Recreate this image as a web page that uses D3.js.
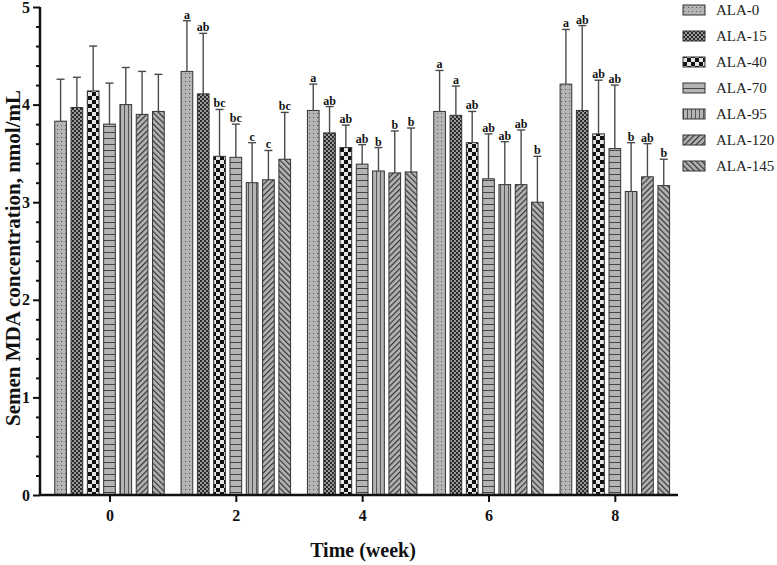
<!DOCTYPE html>
<html><head><meta charset="utf-8">
<script src="https://cdn.jsdelivr.net/npm/d3@7"></script>
<style>body{margin:0;background:#fff}svg{display:block}</style>
</head><body>
<script>
const weeks = [0, 2, 4, 6, 8];
const series = ["ALA-0", "ALA-15", "ALA-40", "ALA-70", "ALA-95", "ALA-120", "ALA-145"];
// mean values per week (series order as above)
const meansW0 = [3.83, 3.97, 4.14, 3.80, 4.00, 3.90, 3.93];
const meansW2 = [4.34, 4.11, 3.47, 3.46, 3.20, 3.23, 3.44];
const meansW4 = [3.94, 3.71, 3.56, 3.39, 3.32, 3.30, 3.31];
const meansW6 = [3.93, 3.89, 3.61, 3.24, 3.18, 3.18, 3.00];
const meansW8 = [4.21, 3.94, 3.70, 3.55, 3.11, 3.26, 3.17];
// upper error (SD)
const errW0 = [0.43, 0.31, 0.46, 0.42, 0.38, 0.44, 0.38];
const errW2 = [0.52, 0.62, 0.48, 0.34, 0.41, 0.30, 0.48];
const errW4 = [0.27, 0.27, 0.23, 0.20, 0.24, 0.43, 0.45];
const errW6 = [0.42, 0.30, 0.32, 0.46, 0.44, 0.56, 0.47];
const errW8 = [0.56, 0.87, 0.55, 0.65, 0.50, 0.34, 0.27];
// significance letters
const lettersW0 = ["", "", "", "", "", "", ""];
const lettersW2 = ["a", "ab", "bc", "bc", "c", "c", "bc"];
const lettersW4 = ["a", "ab", "ab", "ab", "b", "b", "b"];
const lettersW6 = ["a", "a", "ab", "ab", "ab", "ab", "b"];
const lettersW8 = ["a", "ab", "ab", "ab", "b", "ab", "b"];
const yTicks = [0, 1, 2, 3, 4, 5];

const meansAll = [meansW0, meansW2, meansW4, meansW6, meansW8];
const errAll = [errW0, errW2, errW4, errW6, errW8];
const lettersAll = [lettersW0, lettersW2, lettersW4, lettersW6, lettersW8];
const rows = [];
weeks.forEach((w, wi) => series.forEach((s, si) => rows.push({
  week: w, series: s, si, mean: meansAll[wi][si], err: errAll[wi][si], letter: lettersAll[wi][si]
})));

const W = 777, H = 565;
const FONT = "'Liberation Serif','Times New Roman',serif";
const svg = d3.select("body").append("svg").attr("width", W).attr("height", H);

const x = d3.scaleLinear().domain([-1.1, 9]).range([40, 678]);
const xs = d3.scaleBand().domain(series).range([-54.75, 54.75]).paddingInner(0.283).paddingOuter(0);
const y = d3.scaleLinear().domain([0, 5]).range([495, 7]);

// patterns
const defs = svg.append("defs");
const BG = "#b4b4b4";
function pat(id, w, h, build, transform) {
  const p = defs.append("pattern").attr("id", id).attr("patternUnits", "userSpaceOnUse")
    .attr("width", w).attr("height", h);
  if (transform) p.attr("patternTransform", transform);
  build(p);
}
pat("p0", 4, 4, p => {
  p.append("rect").attr("width", 4).attr("height", 4).attr("fill", BG);
  p.append("rect").attr("x", 1).attr("y", 1).attr("width", 1).attr("height", 1).attr("fill", "#555");
});
pat("p1", 4, 4, p => {
  p.append("rect").attr("width", 4).attr("height", 4).attr("fill", "#9a9a9a");
  p.append("rect").attr("width", 2).attr("height", 2).attr("fill", "#2a2a2a");
  p.append("rect").attr("x", 2).attr("y", 2).attr("width", 2).attr("height", 2).attr("fill", "#2a2a2a");
});
pat("p2", 8, 8, p => {
  p.append("rect").attr("width", 8).attr("height", 8).attr("fill", "#e4e4e4");
  p.append("rect").attr("width", 4).attr("height", 4).attr("fill", "#111");
  p.append("rect").attr("x", 4).attr("y", 4).attr("width", 4).attr("height", 4).attr("fill", "#111");
});
pat("p3", 6, 6, p => {
  p.append("rect").attr("width", 6).attr("height", 6).attr("fill", BG);
  p.append("rect").attr("y", 0).attr("width", 6).attr("height", 1).attr("fill", "#444");
});
pat("p4", 4, 4, p => {
  p.append("rect").attr("width", 4).attr("height", 4).attr("fill", BG);
  p.append("rect").attr("x", 0).attr("width", 1).attr("height", 4).attr("fill", "#555");
});
pat("p5", 4, 4, p => {
  p.append("rect").attr("width", 4).attr("height", 4).attr("fill", BG);
  p.append("rect").attr("x", 0).attr("width", 1.2).attr("height", 4).attr("fill", "#333");
}, "rotate(45)");
pat("p6", 4, 4, p => {
  p.append("rect").attr("width", 4).attr("height", 4).attr("fill", BG);
  p.append("rect").attr("x", 0).attr("width", 1.2).attr("height", 4).attr("fill", "#333");
}, "rotate(-45)");
const fillOf = s => `url(#p${series.indexOf(s)})`;

// bars
const bars = svg.append("g");
bars.selectAll("rect").data(rows).join("rect")
  .attr("x", d => x(d.week) + xs(d.series))
  .attr("y", d => y(d.mean))
  .attr("width", xs.bandwidth())
  .attr("height", d => y(0) - y(d.mean))
  .attr("fill", d => fillOf(d.series))
  .attr("stroke", "#333").attr("stroke-width", 1);

// error bars (upper only)
const eb = svg.append("g").attr("stroke", "#4a4a4a").attr("stroke-width", 1.4);
eb.selectAll("line.v").data(rows).join("line").attr("class", "v")
  .attr("x1", d => x(d.week) + xs(d.series) + xs.bandwidth() / 2)
  .attr("x2", d => x(d.week) + xs(d.series) + xs.bandwidth() / 2)
  .attr("y1", d => y(d.mean)).attr("y2", d => y(d.mean + d.err));
eb.selectAll("line.c").data(rows).join("line").attr("class", "c")
  .attr("x1", d => x(d.week) + xs(d.series) + xs.bandwidth() / 2 - 4)
  .attr("x2", d => x(d.week) + xs(d.series) + xs.bandwidth() / 2 + 4)
  .attr("y1", d => y(d.mean + d.err)).attr("y2", d => y(d.mean + d.err));

// letters
svg.append("g").selectAll("text").data(rows.filter(d => d.letter)).join("text")
  .attr("x", d => x(d.week) + xs(d.series) + xs.bandwidth() / 2)
  .attr("y", d => y(d.mean + d.err) - 2)
  .attr("text-anchor", "middle")
  .attr("font-family", FONT).attr("font-weight", "bold").attr("font-size", 12)
  .attr("fill", "#111")
  .text(d => d.letter);

// y axis
const yAxis = svg.append("g").attr("transform", "translate(40,0)")
  .call(d3.axisLeft(y).tickValues(yTicks).tickFormat(d3.format("d")).tickSize(7).tickPadding(3));
const yMinor = svg.append("g").attr("transform", "translate(40,0)")
  .call(d3.axisLeft(y).tickValues(d3.range(0, 5.01, 0.2).filter(v => Math.abs(v - Math.round(v)) > 1e-6)).tickSize(4).tickFormat(""));
yMinor.select(".domain").remove();
// x axis
const xAxis = svg.append("g").attr("transform", "translate(0,495)")
  .call(d3.axisBottom(x).tickValues(weeks).tickFormat(d3.format("d")).tickSize(7).tickPadding(8).tickSizeOuter(0));
[yAxis, yMinor, xAxis].forEach(g => {
  g.selectAll("line").attr("stroke", "#111").attr("stroke-width", 2);
  g.selectAll(".domain").attr("stroke", "#111").attr("stroke-width", 2.5);
  g.selectAll("text").attr("font-family", FONT).attr("font-weight", "bold").attr("font-size", 16).attr("fill", "#111");
});
yAxis.select(".domain").attr("d", "M0,495V7");
xAxis.select(".domain").attr("d", "M40,0H678");

// axis titles
svg.append("text").attr("transform", "translate(13,258) rotate(-90)")
  .attr("text-anchor", "middle").attr("dominant-baseline", "central")
  .attr("font-family", FONT).attr("font-weight", "bold").attr("font-size", 21).attr("fill", "#111")
  .text("Semen MDA concentration, nmol/mL");
svg.append("text").attr("x", 363).attr("y", 557)
  .attr("text-anchor", "middle")
  .attr("font-family", FONT).attr("font-weight", "bold").attr("font-size", 20).attr("fill", "#111")
  .text("Time (week)");

// legend
const lg = svg.append("g").selectAll("g").data(series).join("g")
  .attr("transform", (d, i) => `translate(683,${10 + i * 26})`);
lg.append("rect").attr("x", 0).attr("y", -5).attr("width", 22).attr("height", 10)
  .attr("fill", d => fillOf(d)).attr("stroke", "#333").attr("stroke-width", 1);
lg.append("text").attr("x", 33).attr("y", 0).attr("dominant-baseline", "central")
  .attr("font-family", FONT).attr("font-size", 15).attr("fill", "#222").text(d => d);
</script>
</body></html>
